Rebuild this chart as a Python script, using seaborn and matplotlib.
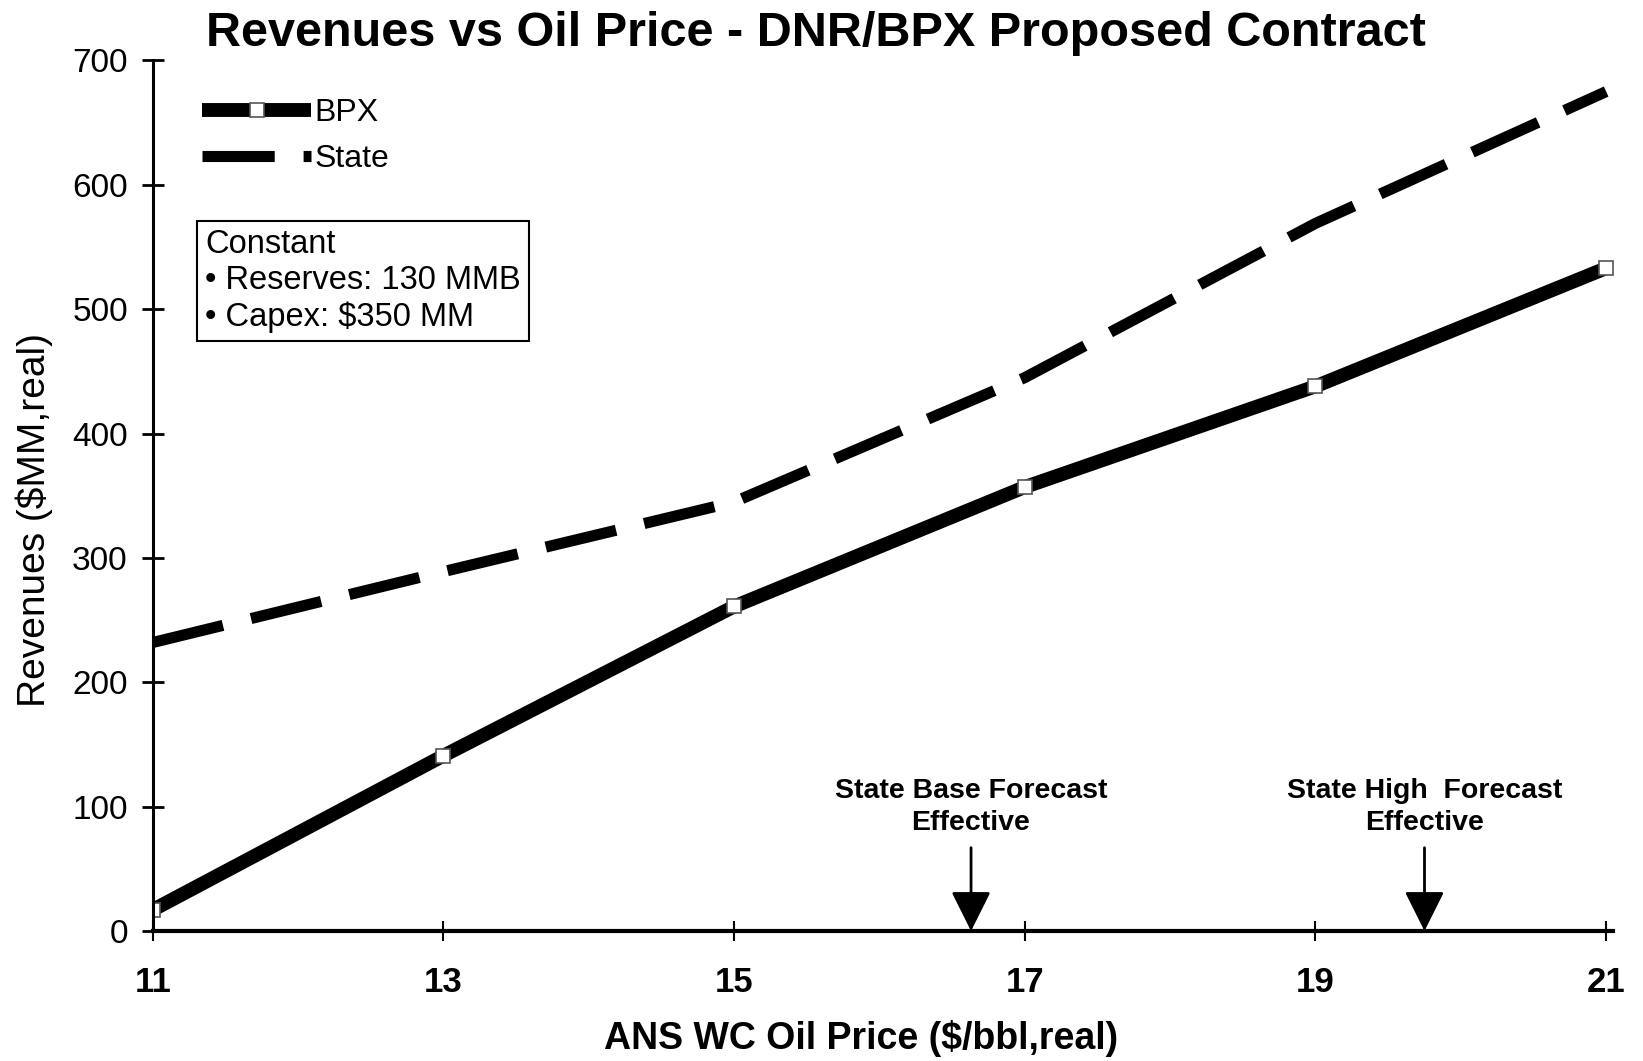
import numpy as np
import pandas as pd
import seaborn as sns
import matplotlib.pyplot as plt
from matplotlib import font_manager

# data
price = [11, 13, 15, 17, 19, 21]
bpx = [17, 141, 261, 357, 438, 533]
state = [232, 289, 345, 445, 569, 675]
forecasts = ['State Base Forecast\nEffective', 'State High  Forecast\nEffective']
forecast_price = [16.63, 19.75]

df = pd.DataFrame({'price': price, 'BPX': bpx, 'State': state})

sns.set_style('white')
names = {f.name for f in font_manager.fontManager.ttflist}
narrow = 'Liberation Sans Narrow' if 'Liberation Sans Narrow' in names else 'Liberation Sans'
plt.rcParams['font.family'] = ['Liberation Sans', 'DejaVu Sans']
plt.rcParams.update({'text.color': 'black', 'axes.labelcolor': 'black',
                     'xtick.color': 'black', 'ytick.color': 'black'})

fig = plt.figure(figsize=(16.43, 10.61), dpi=100)
ax = fig.add_axes([0.093, 0.1225, 0.889, 0.8205])

sns.lineplot(data=df, x='price', y='BPX', ax=ax, color='black', lw=10,
             marker='s', ms=10, mfc='white', mec='#555555', mew=1.2,
             label='BPX', solid_capstyle='butt')
sns.lineplot(data=df, x='price', y='State', ax=ax, color='black', lw=8,
             label='State')
ax.lines[-1].set_dashes((6.5, 2.6))
ax.lines[-1].set_dash_capstyle('butt')

ax.set_xlim(11, 21.05)
ax.set_ylim(0, 700)
ax.set_xticks(price)
ax.set_yticks(range(0, 701, 100))
for s in ['top', 'right']:
    ax.spines[s].set_visible(False)
ax.spines['left'].set_linewidth(2.2)
ax.spines['bottom'].set_linewidth(3)
ax.spines['left'].set_color('black')
ax.spines['bottom'].set_color('black')
ax.tick_params(axis='y', direction='inout', length=16, width=2, pad=10,
               labelsize=24, left=True)
ax.tick_params(axis='x', direction='inout', length=14, width=1.5, pad=18,
               bottom=True)
for t in ax.get_xticklabels():
    t.set_fontfamily(narrow)
    t.set_fontweight('bold')
    t.set_fontsize(25)

ax.set_xlabel('ANS WC Oil Price ($/bbl,real)', fontsize=27, fontweight='bold',
              family=narrow, va='center')
ax.xaxis.set_label_coords(0.485, -0.124)
ax.set_ylabel('Revenues ($MM,real)', fontsize=28, va='center')
ax.yaxis.set_label_coords(-0.081, 0.472)

fig.text(0.4966, 0.968, 'Revenues vs Oil Price - DNR/BPX Proposed Contract',
         ha='center', va='center', fontsize=35, fontweight='bold', family=narrow)

leg = ax.legend(loc='upper left', bbox_to_anchor=(0.023, 0.975), frameon=False,
                fontsize=23, handlelength=3.4, handletextpad=0.1,
                labelspacing=0.5, borderpad=0, numpoints=1)

ax.text(0.036, 0.806, 'Constant\n• Reserves: 130 MMB\n• Capex: $350 MM',
        transform=ax.transAxes, ha='left', va='top', fontsize=23.5,
        linespacing=1.2,
        bbox=dict(boxstyle='square,pad=0.25', fc='white', ec='black', lw=1.5))

for label, xp in zip(forecasts, forecast_price):
    ax.text(xp, 100, label, ha='center', va='center', fontsize=20.5,
            fontweight='bold', family=narrow, linespacing=1.3)
    ax.annotate('', xy=(xp, 0), xytext=(xp, 67),
                arrowprops=dict(arrowstyle='-|>', mutation_scale=62, lw=2,
                                color='black', shrinkA=0, shrinkB=0))

fig.savefig('out.png', dpi=100)
